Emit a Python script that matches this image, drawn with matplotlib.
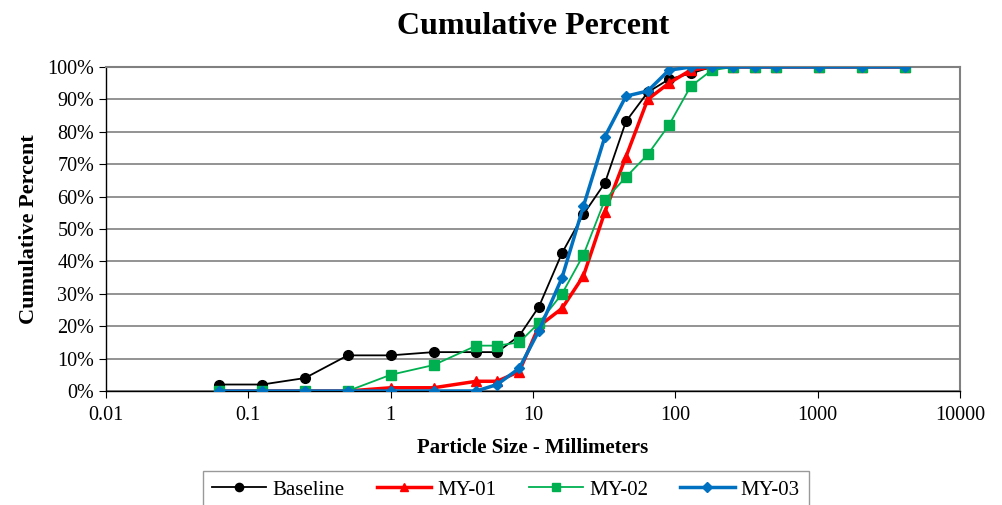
import matplotlib
matplotlib.use('Agg')
import matplotlib.pyplot as plt
from matplotlib.ticker import FixedLocator, FixedFormatter, PercentFormatter, NullLocator

# particle sizes (mm) and cumulative percent finer
sizes = [0.062, 0.125, 0.25, 0.5, 1, 2, 4, 5.6, 8, 11, 16, 22.6, 32, 45, 64, 90,
         128, 180, 256, 362, 512, 1024, 2048, 4096]
baseline = [2, 2, 4, 11, 11, 12, 12, 12, 17, 26, 42.6, 54.5, 64.2, 83.2, 92.2, 96.2,
            98, 100, 100, 100, 100, 100, 100, 100]
my01 = [0, 0, 0, 0, 1, 1, 3, 3, 6, 20, 25.5, 35.5, 55.3, 72.3, 90, 95,
        99, 100, 100, 100, 100, 100, 100, 100]
my02 = [0, 0, 0, 0, 5, 8, 14, 14, 15, 21, 30, 42, 59, 66, 73, 82,
        94, 99, 100, 100, 100, 100, 100, 100]
my03 = [0, 0, 0, 0, 0, 0, 0, 2, 7, 18.6, 35, 57, 78.5, 91, 92.6, 99,
        100, 100, 100, 100, 100, 100, 100, 100]

xticks = [0.01, 0.1, 1, 10, 100, 1000, 10000]
xtick_labels = ['0.01', '0.1', '1', '10', '100', '1000', '10000']

plt.rcParams['font.family'] = ['Liberation Serif', 'DejaVu Serif']

fig = plt.figure(figsize=(10.03, 5.05), dpi=100)
ax = fig.add_axes([106 / 1003, 1 - 391 / 505, (960 - 106) / 1003, (391 - 67) / 505])

ax.plot(sizes, baseline, color='black', lw=1.3, marker='o', ms=7, label='Baseline', zorder=3)
ax.plot(sizes, my01, color='#FF0000', lw=2.5, marker='^', ms=7, label='MY-01', zorder=4)
ax.plot(sizes, my02, color='#00B050', lw=1.3, marker='s', ms=7, label='MY-02', zorder=5)
ax.plot(sizes, my03, color='#0070C0', lw=2.5, marker='D', ms=5.5, label='MY-03', zorder=6)

ax.set_xscale('log')
ax.set_xlim(0.01, 10000)
ax.set_ylim(0, 100)
ax.xaxis.set_major_locator(FixedLocator(xticks))
ax.xaxis.set_major_formatter(FixedFormatter(xtick_labels))
ax.xaxis.set_minor_locator(NullLocator())
ax.set_yticks(range(0, 101, 10))
ax.yaxis.set_major_formatter(PercentFormatter(decimals=0))

ax.grid(axis='y', color='#808080', lw=1.2)
ax.set_axisbelow(True)
for side in ['top', 'right']:
    ax.spines[side].set_color('#808080')
    ax.spines[side].set_linewidth(1.5)
for side in ['left', 'bottom']:
    ax.spines[side].set_color('black')
    ax.spines[side].set_linewidth(1)

ax.tick_params(axis='both', direction='out', length=5, labelsize=14.5, colors='black')
ax.tick_params(axis='x', pad=6)

ax.set_title('Cumulative Percent', fontsize=23, fontweight='bold', pad=24)
ax.set_xlabel('Particle Size - Millimeters', fontsize=15, fontweight='bold', labelpad=9)
ax.set_ylabel('Cumulative Percent', fontsize=16, fontweight='bold', labelpad=6)

leg = fig.legend(loc='center', bbox_to_anchor=(506 / 1003, 1 - 490 / 505), ncol=4,
                 fontsize=15, frameon=True, fancybox=False, edgecolor='#808080',
                 handlelength=2.6, handletextpad=0.3, columnspacing=1.55,
                 borderpad=0.45, markerscale=0.85)
leg.get_frame().set_linewidth(1)

fig.savefig('out.png', dpi=100)
plt.close(fig)
